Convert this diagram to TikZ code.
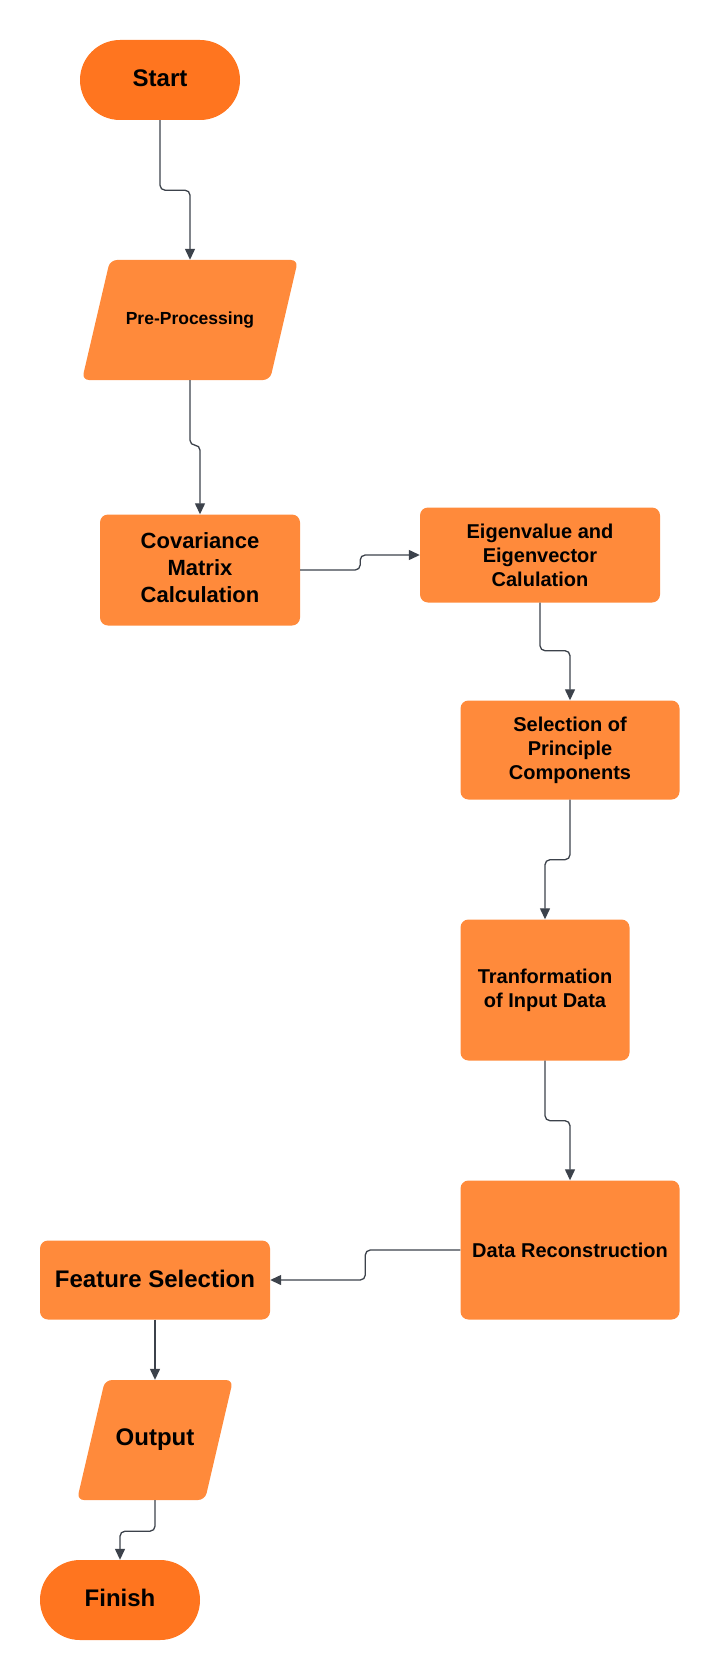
\documentclass[tikz,border=0pt]{standalone}
\usepackage{fontspec}
\setmainfont{Liberation Sans}
\usetikzlibrary{arrows.meta,calc}
\definecolor{termfill}{HTML}{FF751F}
\definecolor{boxfill}{HTML}{FF8A3B}
\definecolor{linecol}{HTML}{3C424B}
\newcommand{\upby}[2]{\raisebox{#1}{\begin{tabular}{@{}c@{}}#2\end{tabular}}}
\tikzset{
  terminal/.style={fill=termfill, rounded corners=40pt, minimum width=160pt, minimum height=80pt, inner sep=0pt, font=\bfseries\fontsize{24}{28}\selectfont},
  procbox/.style={fill=boxfill, rounded corners=8pt, inner sep=0pt, align=center, font=\bfseries\fontsize{20}{24}\selectfont},
  iolabel/.style={inner sep=0pt, align=center},
  conn/.style={draw=linecol, line width=1.3pt, rounded corners=5pt, -{Triangle[length=11pt,width=10pt]}},
}
\begin{document}
\begin{tikzpicture}[x=1pt,y=-1pt]
\useasboundingbox (0,0) rectangle (720,1680);
% parallelogram shapes
\fill[boxfill, rounded corners=7pt] (82,380) -- (270,380) -- (298,260) -- (110,260) -- cycle;
\fill[boxfill, rounded corners=7pt] (77,1500) -- (205,1500) -- (233,1380) -- (105,1380) -- cycle;
% nodes
\node[terminal] (start) at (160,80) {\raisebox{3.5pt}{Start}};
\node[iolabel, minimum width=188pt, minimum height=120pt, font=\bfseries\fontsize{17.5}{21}\selectfont] (pre) at (190,320) {\raisebox{2pt}{Pre-Processing}};
\node[procbox, minimum width=200pt, minimum height=111pt, font=\bfseries\fontsize{22}{26.5}\selectfont] (cov) at (200,570) {\upby{5pt}{Covariance\\[0.5pt]Matrix\\[0.5pt]Calculation}};
\node[procbox, minimum width=240pt, minimum height=95pt] (eig) at (540,555) {Eigenvalue and\\Eigenvector\\Calulation};
\node[procbox, minimum width=219pt, minimum height=99pt] (sel) at (570,750) {Selection of\\Principle\\Components};
\node[procbox, minimum width=169pt, minimum height=141pt] (tr) at (545,990) {\raisebox{1.5pt}{Tranformation}\\\raisebox{1.5pt}{of Input Data}};
\node[procbox, minimum width=219pt, minimum height=139pt] (rec) at (570,1250) {Data Reconstruction};
\node[procbox, minimum width=230pt, minimum height=79pt, font=\bfseries\fontsize{24}{28}\selectfont] (feat) at (155,1280) {\raisebox{2pt}{Feature Selection}};
\node[iolabel, minimum width=128pt, minimum height=120pt, font=\bfseries\fontsize{24}{28}\selectfont] (out) at (155,1440) {\raisebox{1pt}{Output}};
\node[terminal] (fin) at (120,1600) {\raisebox{4pt}{Finish}};
% connectors
\draw[conn] (start.south) -- ++(0,70) -| (pre.north);
\draw[conn] (pre.south) -- ++(0,65) -| (cov.north);
\draw[conn] (cov.east) -- ++(60,0) |- (eig.west);
\draw[conn] (eig.south) -- ++(0,48) -| (sel.north);
\draw[conn] (sel.south) -- ++(0,60) -| (tr.north);
\draw[conn] (tr.south) -- ++(0,60) -| (rec.north);
\draw[conn] (rec.west) -- ++(-95,0) |- (feat.east);
\draw[conn] (feat.south) -- (out.north);
\draw[conn] (out.south) -- ++(0,31) -| (fin.north);
\end{tikzpicture}
\end{document}
